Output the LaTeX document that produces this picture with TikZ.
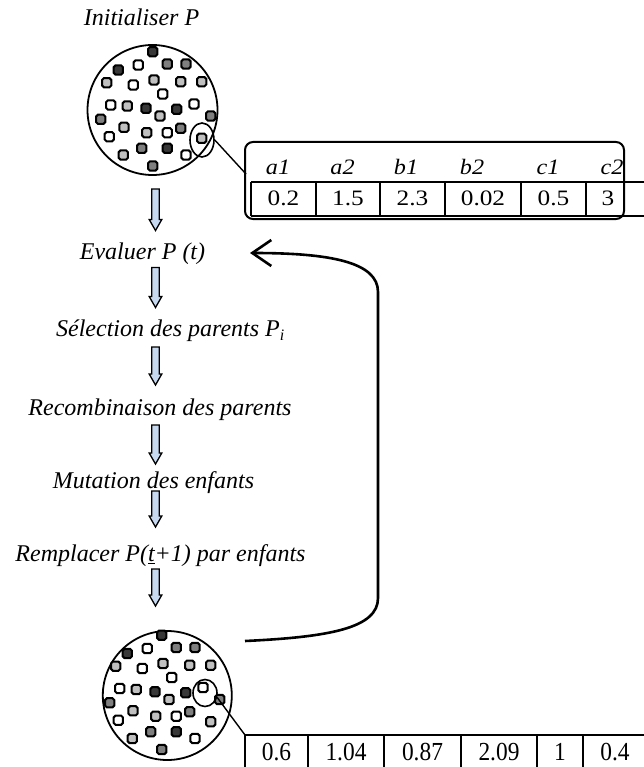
\documentclass[tikz,border=0pt]{standalone}
\usepackage{fontspec}
\setmainfont{Liberation Serif}[ItalicFont={Liberation Serif Italic}]
\usetikzlibrary{arrows.meta,shapes.geometric,calc}
\definecolor{sqdark}{HTML}{383838}
\definecolor{sqmid}{HTML}{7F7F7F}
\definecolor{sqlight}{HTML}{C0C0C0}
\definecolor{arrowfill}{HTML}{C6D9F1}
\newcommand\flowarrow[2]{\draw[dnarrow] let \p1=(#1), \p2=(#2) in
  (\x1-3.8pt,\y1) -- (\x1+3.8pt,\y1) -- (\x1+3.8pt,\y2+11pt) -- (\x1+6.3pt,\y2+11pt)
  -- (\x1,\y2) -- (\x1-6.3pt,\y2+11pt) -- (\x1-3.8pt,\y2+11pt) -- cycle;}
\newcommand\popsquares{%
  \foreach \px/\py/\pc in {152.7/51.7/sqdark, 118.3/70/sqdark, 138.3/65/white, 167.3/64/sqmid,
    186/64/sqmid, 106.7/82.7/sqlight, 133.3/85/white, 154/80/sqlight, 180.7/81.7/sqlight,
    201.7/81.7/sqlight, 162.7/94/white, 110.7/105/white, 127.3/106/sqlight, 146/108.3/sqdark,
    160/116/sqlight, 176.7/109.3/sqdark, 194/104/white, 210.7/116/sqmid, 100.7/119.3/sqmid,
    109.3/136.7/white, 124/127.3/sqlight, 146.7/132.7/sqlight, 167.3/132.7/white,
    180.7/128.3/sqmid, 201.7/138.3/sqlight, 123.3/155/sqlight, 141.7/148.3/sqmid,
    167.3/148.3/sqdark, 186/155/white, 152.7/166/sqmid}
  {\draw[sq, fill=\pc] (\px-4.6,\py-4.6) rectangle ++(9.2,9.2);}}
\begin{document}
\begin{tikzpicture}[x=1pt,y=-1pt,
  sq/.style={line width=2pt, rounded corners=1.8pt},
  popcircle/.style={circle, draw, line width=1.8pt, inner sep=0pt},
  selell/.style={ellipse, draw, line width=1.6pt, inner sep=0pt},
  steptext/.style={font=\fontsize{24}{24}\selectfont\itshape, anchor=base, inner sep=0pt},
  hdr/.style={font=\fontsize{22}{22}\selectfont\itshape, anchor=base, inner sep=0pt},
  valtop/.style={font=\fontsize{22}{22}\selectfont, anchor=base, inner sep=0pt},
  valbot/.style={font=\fontsize{26}{26}\selectfont, anchor=base, inner sep=0pt},
  tabline/.style={line width=1.5pt},
  dnarrow/.style={draw=black, fill=arrowfill, line width=1.3pt, line join=miter},
  looparrow/.style={line width=2.6pt, -{Straight Barb[length=19pt, width=26pt]}}]
\useasboundingbox (0,0) rectangle (644,767);

% step texts
\node[steptext] (init) at (141.5,26) {Initialiser P};
\node[steptext] (eval) at (142.5,259) {Evaluer P (t)};
\node[steptext] (sel) at (170.5,336.7) {Sélection des parents P\textsubscript{\fontsize{16}{16}\selectfont i}};
\node[steptext] (recomb) at (160,415) {Recombinaison des parents};
\node[steptext] (mut) at (153.5,488.3) {Mutation des enfants};
\node[steptext] (repl) at (160.5,561.7) {Remplacer P(\underline{t}+1) par enfants};

% populations
\node[popcircle, minimum size=130pt] (pop1) at (152.5,110) {};
\popsquares
\node[selell, minimum width=24pt, minimum height=34pt] (ell1) at (202,140) {};

\node[popcircle, minimum size=129pt] (pop2) at (167.3,695.5) {};
\begin{scope}[shift={(9,583.5)}]
\popsquares
\end{scope}
\node[selell, minimum width=24pt, minimum height=27pt] (ell2) at (205,693) {};

% top table
\node[draw, rounded corners=8pt, line width=2pt, minimum width=379pt, minimum height=77pt, inner sep=0pt] (tab1) at (434.5,180.5) {};
\draw[tabline] (251,182) -- (644,182);
\draw[tabline] (251,216) -- (644,216);
\foreach \cx in {251,316,380,445,521,586} \draw[tabline] (\cx,182) -- (\cx,216);
\coordinate (tab1in) at (246,174);
\draw[line width=1.4pt] (ell1.east) -- (tab1in);
\foreach \cx/\t in {278/a1, 342.5/a2, 406/b1, 472/b2, 548/c1, 612/c2}
  \node[hdr] at (\cx,175) {\scalebox{1.1}[1]{\t}};
\foreach \cx/\t in {283.5/0.2, 348/1.5, 412.5/2.3, 483/0.02, 553.5/0.5, 608/3}
  \node[valtop] at (\cx,205) {\scalebox{1.15}[1]{\t}};

% bottom table
\draw[tabline] (245,735) -- (644,735);
\foreach \cx in {245,308,384,461,537,583} \draw[tabline] (\cx,735) -- (\cx,767);
\coordinate (tab2in) at (245,735);
\draw[line width=1.4pt] (ell2.-20) -- (tab2in);
\foreach \cx/\t in {276.5/0.6, 346/1.04, 422.5/0.87, 499/2.09, 560/1, 615/0.4}
  \node[valbot] at (\cx,760) {\scalebox{0.9}[1]{\t}};

% flow arrows
\foreach \i/\ys/\ye in {1/189/230.5, 2/267.5/307.5, 3/347/385, 4/425/464, 5/491/527, 6/569/606} {
  \coordinate (s\i) at (155.5,\ys);
  \coordinate (e\i) at (155.5,\ye);
}
\flowarrow{s1}{e1}
\flowarrow{s2}{e2}
\flowarrow{s3}{e3}
\flowarrow{s4}{e4}
\flowarrow{s5}{e5}
\flowarrow{s6}{e6}

% loop arrow
\coordinate (loopstart) at (245,641);
\coordinate (looptip) at (250,253);
\draw[looparrow] (loopstart) .. controls (330,637) and (378,628) .. (378,598)
  -- (378,292) .. controls (378,262) and (330,253) .. (looptip);
\end{tikzpicture}
\end{document}
